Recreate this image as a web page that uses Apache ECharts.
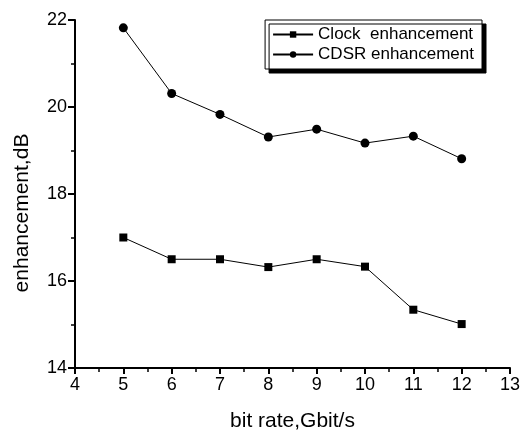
<!DOCTYPE html>
<html>
<head>
<meta charset="utf-8">
<script src="https://cdn.jsdelivr.net/npm/echarts@6/dist/echarts.min.js"></script>
<style>
  html, body { margin: 0; padding: 0; background: #fff; }
  #main { width: 523px; height: 437px; }
</style>
</head>
<body>
<div id="main"></div>
<script>
// data
var bitRates = [5, 6, 7, 8, 9, 10, 11, 12];
var clockEnh = [17.0, 16.5, 16.5, 16.32, 16.5, 16.33, 15.34, 15.01];
var cdsrEnh = [21.82, 20.31, 19.83, 19.31, 19.49, 19.17, 19.33, 18.81];
var seriesNames = ['Clock  enhancement', 'CDSR enhancement'];

function pairs(xs, ys) {
  return xs.map(function (x, i) { return [x, ys[i]]; });
}

var chart = echarts.init(document.getElementById('main'));
var font = 'Liberation Sans, Arial, sans-serif';

var option = {
  animation: false,
  backgroundColor: '#fff',
  grid: { left: 75, right: 11, top: 20, bottom: 63 },
  legend: {
    right: 41,
    top: 20,
    orient: 'vertical',
    itemGap: 3,
    itemWidth: 40,
    itemHeight: 8,
    padding: [6, 8, 6, 7],
    backgroundColor: '#fff',
    borderColor: '#000',
    borderWidth: 1,
    borderRadius: 0,
    shadowColor: '#000',
    shadowOffsetX: 4,
    shadowOffsetY: 4,
    shadowBlur: 0,
    textStyle: { fontFamily: font, fontSize: 17, color: '#000' },
    data: seriesNames
  },
  xAxis: {
    type: 'value',
    min: 4,
    max: 13,
    interval: 1,
    name: 'bit rate,Gbit/s',
    nameLocation: 'middle',
    nameGap: 43,
    nameTextStyle: { fontFamily: font, fontSize: 21, color: '#000' },
    axisLine: { lineStyle: { color: '#000', width: 2 } },
    axisTick: { inside: false, length: 6, lineStyle: { color: '#000', width: 2 } },
    minorTick: { show: true, splitNumber: 2, length: 4, lineStyle: { color: '#000', width: 1.5 } },
    axisLabel: { fontFamily: font, fontSize: 18, color: '#000', margin: 8 },
    splitLine: { show: false }
  },
  yAxis: {
    type: 'value',
    min: 14,
    max: 22,
    interval: 2,
    name: 'enhancement,dB',
    nameLocation: 'middle',
    nameRotate: 90,
    nameGap: 42,
    nameTextStyle: { fontFamily: font, fontSize: 21, color: '#000', padding: [0, 38, 0, 0] },
    axisLine: { show: true, lineStyle: { color: '#000', width: 2 } },
    axisTick: { show: true, inside: false, length: 7, lineStyle: { color: '#000', width: 2 } },
    minorTick: { show: true, splitNumber: 2, length: 4, lineStyle: { color: '#000', width: 1.5 } },
    axisLabel: { fontFamily: font, fontSize: 18, color: '#000', margin: 8 },
    splitLine: { show: false }
  },
  series: [
    {
      name: seriesNames[0],
      type: 'line',
      data: pairs(bitRates, clockEnh),
      symbol: 'rect',
      symbolSize: 8,
      itemStyle: { color: '#000' },
      lineStyle: { color: '#000', width: 1 }
    },
    {
      name: seriesNames[1],
      type: 'line',
      data: pairs(bitRates, cdsrEnh),
      symbol: 'circle',
      symbolSize: 9,
      itemStyle: { color: '#000' },
      lineStyle: { color: '#000', width: 1 }
    }
  ]
};

chart.setOption(option);
</script>
</body>
</html>
